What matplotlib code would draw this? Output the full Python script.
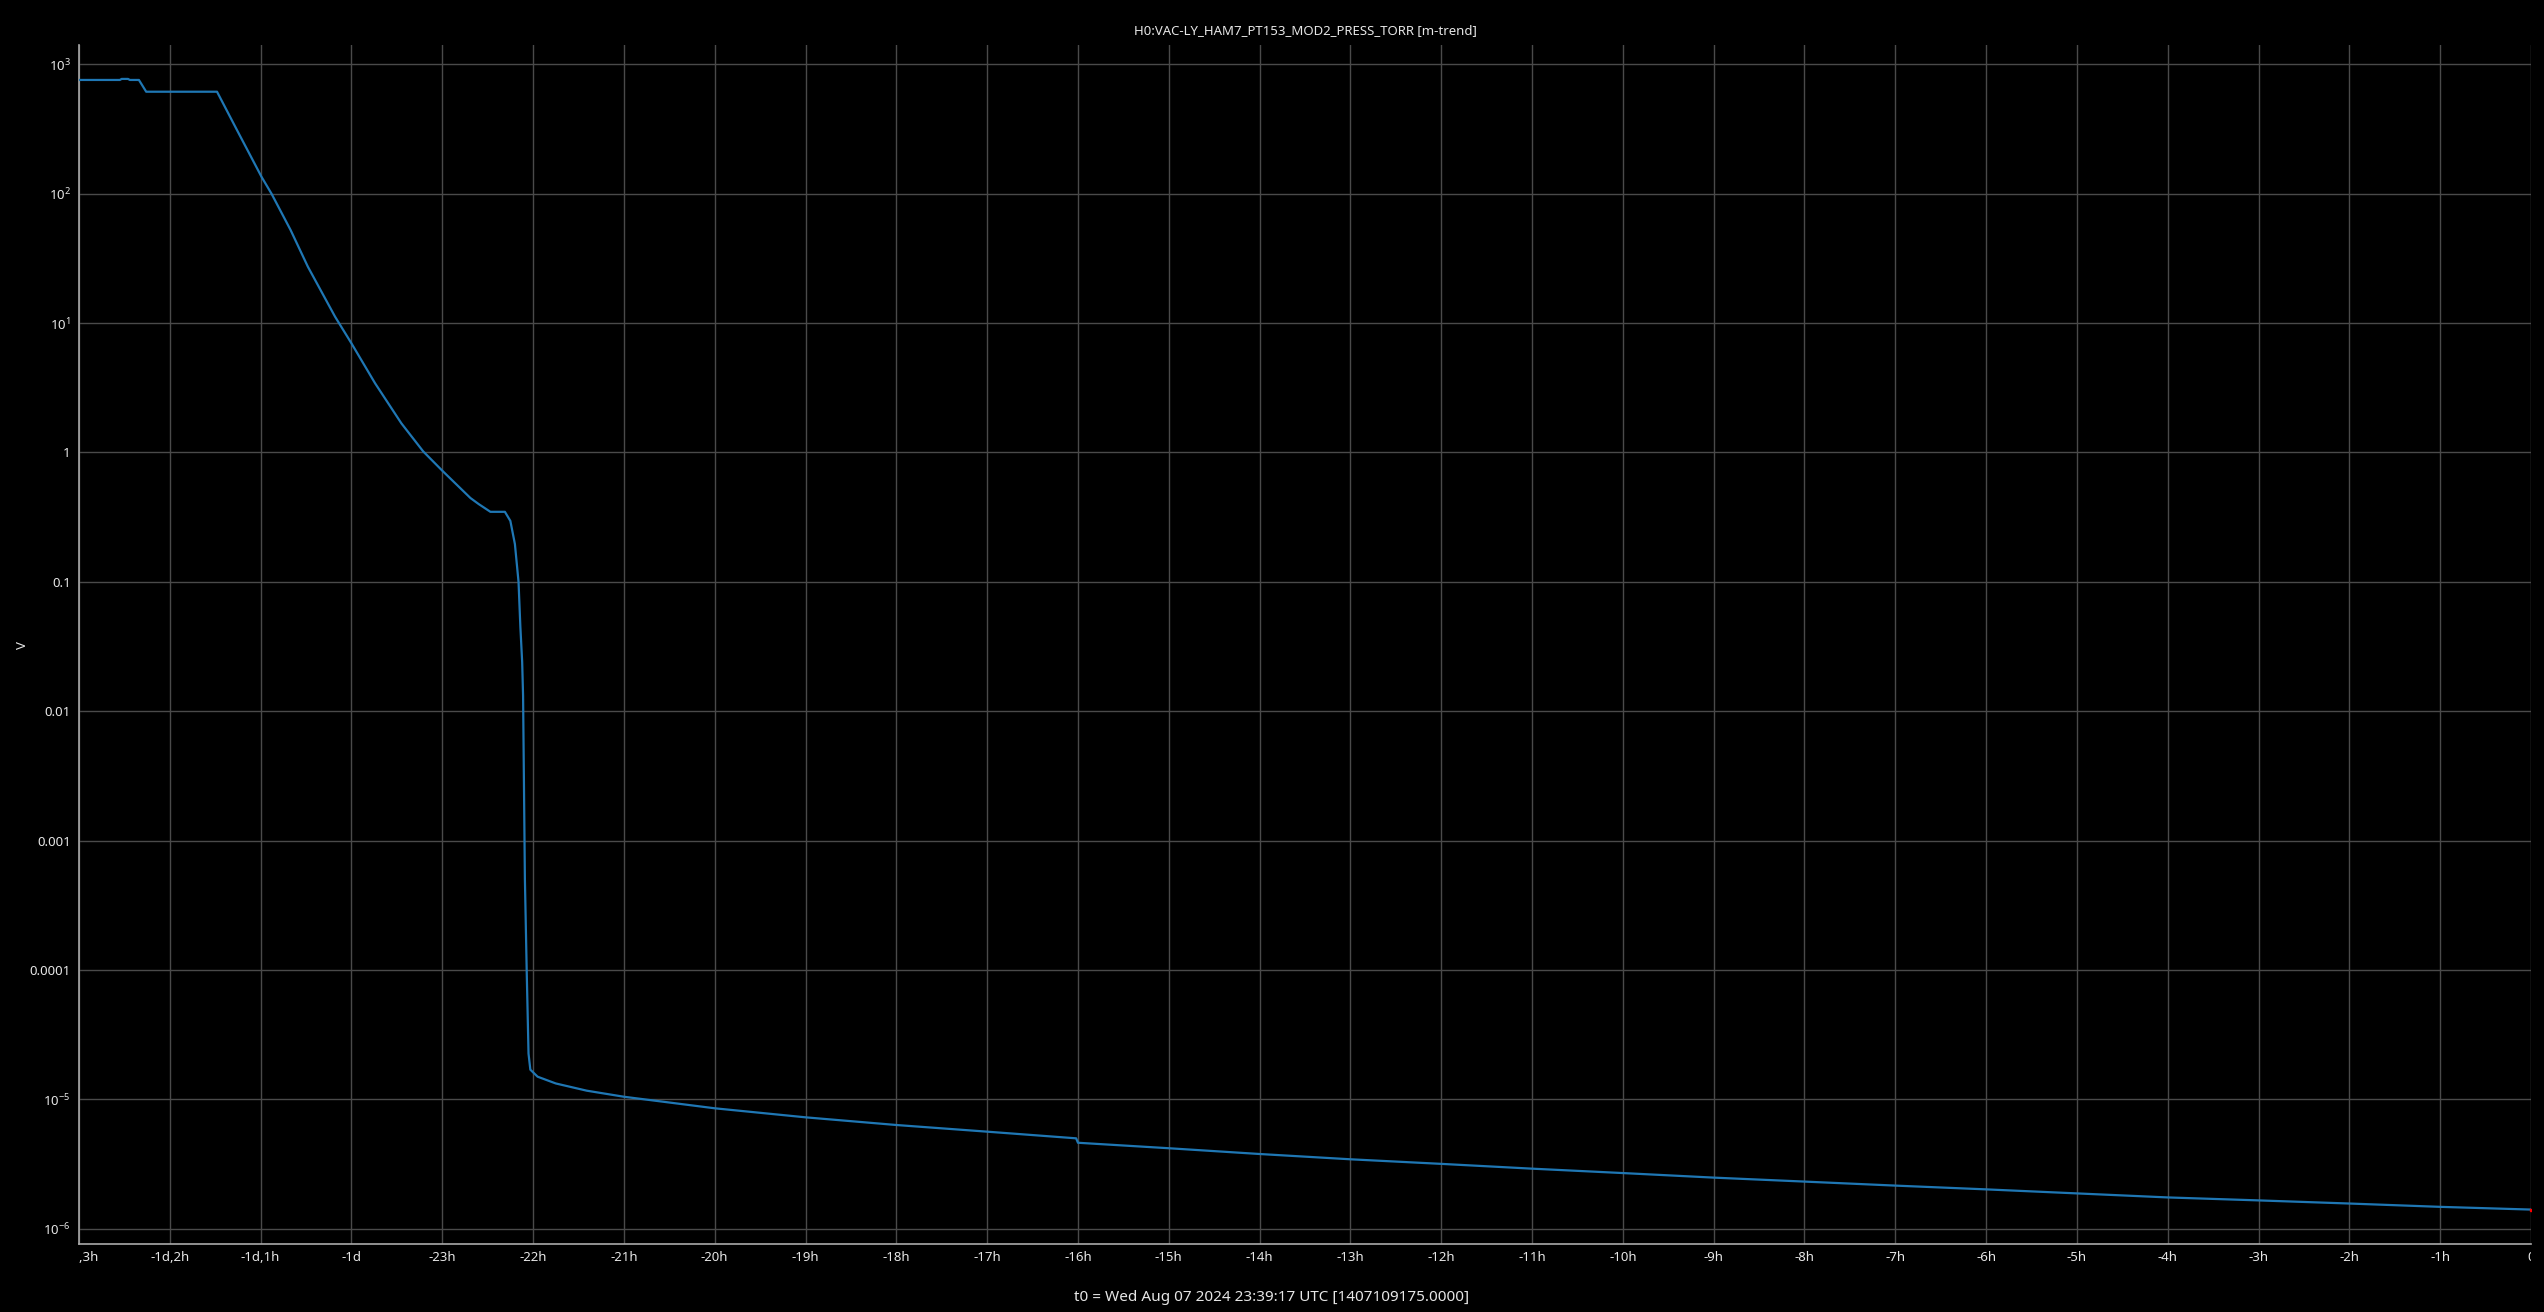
import matplotlib
matplotlib.use("Agg")
import matplotlib.pyplot as plt
from matplotlib.transforms import Bbox, TransformedBbox

plt.rcParams['font.family'] = ['Noto Sans', 'DejaVu Sans']
plt.rcParams['mathtext.fontset'] = 'custom'
plt.rcParams['mathtext.rm'] = 'Noto Sans'

TITLE = "H0:VAC-LY_HAM7_PT153_MOD2_PRESS_TORR [m-trend]"
T0_LABEL = "t0 = Wed Aug 07 2024 23:39:17 UTC [1407109175.0000]"

# hours relative to t0
hours = [-27.0, -26.55, -26.53, -26.46, -26.44, -26.34, -26.26, -25.48, -25.26, -24.99,
         -24.88, -24.67, -24.48, -24.18, -24.0, -23.74, -23.45, -23.21, -23.0, -22.69,
         -22.60, -22.47, -22.31, -22.25, -22.20, -22.16, -22.14, -22.12, -22.11, -22.10,
         -22.09, -22.07, -22.05, -22.03, -21.95, -21.75, -21.41, -21.0, -20.0, -19.0,
         -18.0, -17.0, -16.02, -16.0, -15.0, -14.0, -13.0, -12.0, -11.0, -10.0,
         -9.0, -8.0, -7.0, -6.0, -5.0, -4.0, -3.0, -2.0, -1.0, 0.0]
# pressure [Torr]
press = [757, 757, 771, 771, 757, 757, 614, 614, 310, 135,
         100, 52.4, 27.3, 11.2, 6.98, 3.43, 1.68, 1.02, 0.724, 0.445,
         0.40, 0.348, 0.348, 0.296, 0.196, 0.1, 0.0452, 0.024, 0.0132, 2.59e-3,
         5.06e-4, 9.84e-5, 2.26e-5, 1.70e-5, 1.50e-5, 1.33e-5, 1.17e-5, 1.05e-5, 8.55e-6, 7.28e-6,
         6.35e-6, 5.64e-6, 5.01e-6, 4.63e-6, 4.20e-6, 3.79e-6, 3.45e-6, 3.18e-6, 2.92e-6, 2.70e-6,
         2.49e-6, 2.32e-6, 2.16e-6, 2.02e-6, 1.88e-6, 1.75e-6, 1.66e-6, 1.57e-6, 1.48e-6, 1.41e-6]

xtick_hours = list(range(-27, 1))
xtick_labels = ["-1d,3h", "-1d,2h", "-1d,1h", "-1d"] + ["-%dh" % h for h in range(23, 0, -1)] + ["0"]
ytick_vals = [1e3, 1e2, 1e1, 1, 0.1, 0.01, 0.001, 0.0001, 1e-5, 1e-6]
ytick_labels = [r"$10^{3}$", r"$10^{2}$", r"$10^{1}$", "1", "0.1", "0.01", "0.001", "0.0001",
                r"$10^{-5}$", r"$10^{-6}$"]

fg = '#e6e6e6'
fig = plt.figure(figsize=(25.44, 13.12), dpi=100, facecolor='black')
ax = fig.add_axes([0.03105, 0.0516, 0.96384, 0.9141], facecolor='black')

ax.plot(hours, press, color='#1f77b4', lw=1.6, zorder=3)
ax.plot(hours[-1], press[-1], 's', color='red', ms=2, zorder=4)

ax.set_yscale('log')
ax.set_xlim(-27, 0)
ax.set_ylim(7.6e-7, 1410)
ax.set_xticks(xtick_hours)
ax.set_xticklabels(xtick_labels)
ax.set_yticks(ytick_vals)
ax.set_yticklabels(ytick_labels)
ax.minorticks_off()
ax.tick_params(length=0, colors=fg, labelsize=9.5)
ax.tick_params(axis='x', pad=5)
ax.tick_params(axis='y', pad=6)
ax.grid(True, color='#4a4a4a', lw=1.0)

for side in ['top', 'right']:
    ax.spines[side].set_visible(False)
for side in ['left', 'bottom']:
    ax.spines[side].set_color('#aaaaaa')
    ax.spines[side].set_linewidth(1.2)

# the leftmost tick label is cut at the left spine
clip = TransformedBbox(Bbox([[0, -1], [1, 2]]), ax.transAxes)
for lab in ax.get_xticklabels():
    lab.set_clip_box(clip)
    lab.set_clip_on(True)

ax.set_title(TITLE, color=fg, fontsize=9.5, pad=8)
ax.set_ylabel("V", color=fg, fontsize=9.5, labelpad=0)
fig.text(0.5, 0.011, T0_LABEL, color=fg, fontsize=11, ha='center', va='center')

fig.savefig("out.png", dpi=100, facecolor='black')
